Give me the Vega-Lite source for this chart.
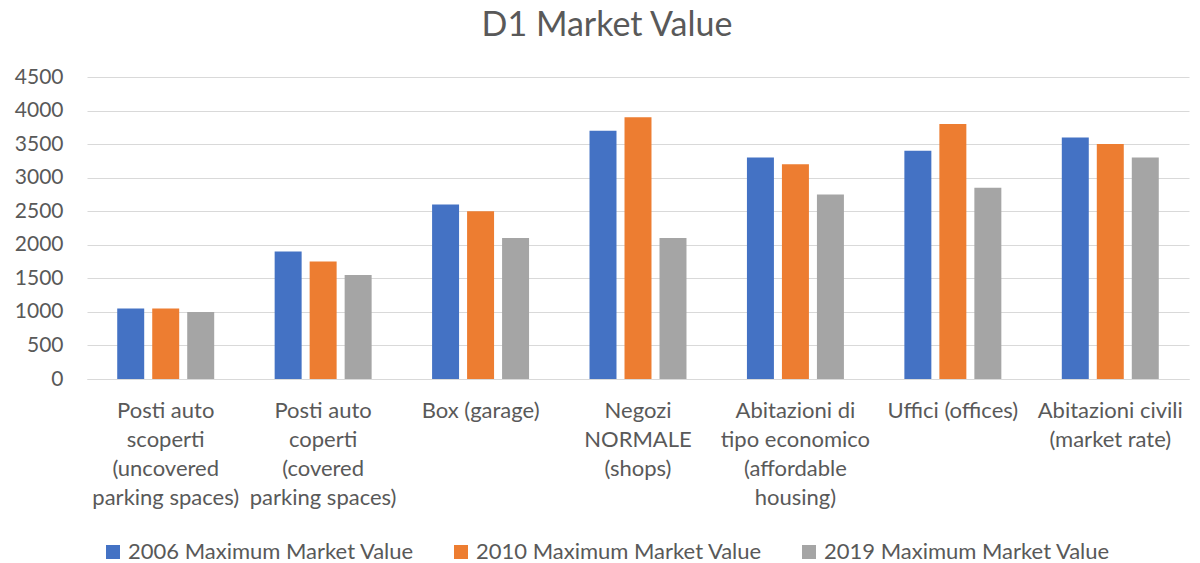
{
  "$schema": "https://vega.github.io/schema/vega-lite/v6.json",
  "autosize": "none",
  "width": 1102,
  "height": 302,
  "padding": {"left": 87, "top": 77, "right": 11, "bottom": 184},
  "background": "white",
  "title": {
    "text": "D1 Market Value",
    "font": "Lato",
    "fontSize": 34,
    "fontWeight": "normal",
    "color": "#595959",
    "anchor": "middle",
    "dx": -31,
    "offset": 23
  },
  "config": {
    "view": {"stroke": null},
    "font": "Lato"
  },
  "data": {
    "values": [
      {"category": "Posti auto|scoperti|(uncovered|parking spaces)", "series": "2006 Maximum Market Value", "value": 1050},
      {"category": "Posti auto|scoperti|(uncovered|parking spaces)", "series": "2010 Maximum Market Value", "value": 1050},
      {"category": "Posti auto|scoperti|(uncovered|parking spaces)", "series": "2019 Maximum Market Value", "value": 1000},
      {"category": "Posti auto|coperti|(covered|parking spaces)", "series": "2006 Maximum Market Value", "value": 1900},
      {"category": "Posti auto|coperti|(covered|parking spaces)", "series": "2010 Maximum Market Value", "value": 1750},
      {"category": "Posti auto|coperti|(covered|parking spaces)", "series": "2019 Maximum Market Value", "value": 1550},
      {"category": "Box (garage)", "series": "2006 Maximum Market Value", "value": 2600},
      {"category": "Box (garage)", "series": "2010 Maximum Market Value", "value": 2500},
      {"category": "Box (garage)", "series": "2019 Maximum Market Value", "value": 2100},
      {"category": "Negozi|NORMALE|(shops)", "series": "2006 Maximum Market Value", "value": 3700},
      {"category": "Negozi|NORMALE|(shops)", "series": "2010 Maximum Market Value", "value": 3900},
      {"category": "Negozi|NORMALE|(shops)", "series": "2019 Maximum Market Value", "value": 2100},
      {"category": "Abitazioni di|tipo economico|(affordable|housing)", "series": "2006 Maximum Market Value", "value": 3300},
      {"category": "Abitazioni di|tipo economico|(affordable|housing)", "series": "2010 Maximum Market Value", "value": 3200},
      {"category": "Abitazioni di|tipo economico|(affordable|housing)", "series": "2019 Maximum Market Value", "value": 2750},
      {"category": "Uffici (offices)", "series": "2006 Maximum Market Value", "value": 3400},
      {"category": "Uffici (offices)", "series": "2010 Maximum Market Value", "value": 3800},
      {"category": "Uffici (offices)", "series": "2019 Maximum Market Value", "value": 2850},
      {"category": "Abitazioni civili|(market rate)", "series": "2006 Maximum Market Value", "value": 3600},
      {"category": "Abitazioni civili|(market rate)", "series": "2010 Maximum Market Value", "value": 3500},
      {"category": "Abitazioni civili|(market rate)", "series": "2019 Maximum Market Value", "value": 3300}
    ]
  },
  "mark": {"type": "bar"},
  "encoding": {
    "x": {
      "field": "category",
      "type": "nominal",
      "sort": null,
      "scale": {"paddingInner": 0.384, "paddingOuter": 0.192},
      "axis": {
        "title": null,
        "labelExpr": "split(datum.label, '|')",
        "labelAngle": 0,
        "labelFont": "Lato",
        "labelFontSize": 22,
        "labelColor": "#595959",
        "labelLineHeight": 29,
        "labelPadding": 21,
        "labelBaseline": "top",
        "labelLimit": 300,
        "ticks": false,
        "domainColor": "#d9d9d9",
        "domainWidth": 1,
        "grid": false
      }
    },
    "xOffset": {
      "field": "series",
      "type": "nominal",
      "scale": {"paddingInner": 0.229, "paddingOuter": 0}
    },
    "y": {
      "field": "value",
      "type": "quantitative",
      "scale": {"domain": [0, 4500], "nice": false},
      "axis": {
        "title": null,
        "format": "d",
        "values": [0, 500, 1000, 1500, 2000, 2500, 3000, 3500, 4000, 4500],
        "labelFont": "Lato",
        "labelFontSize": 21,
        "labelColor": "#595959",
        "labelPadding": 24,
        "ticks": false,
        "domain": false,
        "gridColor": "#d9d9d9",
        "gridWidth": 1
      }
    },
    "color": {
      "field": "series",
      "type": "nominal",
      "scale": {
        "domain": ["2006 Maximum Market Value", "2010 Maximum Market Value", "2019 Maximum Market Value"],
        "range": ["#4472C4", "#ED7D31", "#A5A5A5"]
      },
      "legend": {
        "title": null,
        "orient": "none",
        "direction": "horizontal",
        "legendX": 15,
        "legendY": 464,
        "symbolType": "square",
        "symbolSize": 196,
        "symbolStrokeWidth": 0,
        "labelFont": "Lato",
        "labelFontSize": 22,
        "labelColor": "#595959",
        "labelOffset": 4,
        "columnPadding": 36,
        "labelLimit": 400
      }
    }
  }
}
